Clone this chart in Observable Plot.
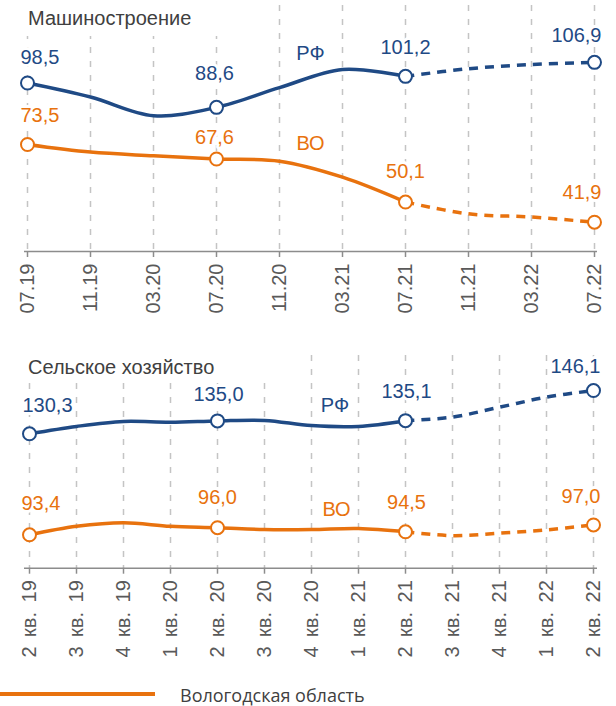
<!DOCTYPE html>
<html><head><meta charset="utf-8">
<script src="https://cdn.jsdelivr.net/npm/d3@7"></script>
<script src="https://cdn.jsdelivr.net/npm/@observablehq/plot@0.6"></script>
<style>
body{margin:0;background:#fff;}
#wrap{position:relative;width:616px;height:706px;overflow:hidden;background:#fff;}
#p1,#p2{position:absolute;left:0;}
#p1{top:0;} #p2{top:330px;}
.title{position:absolute;left:0;background:#fff;color:#404040;font:20px "Liberation Sans",Arial,sans-serif;padding-left:28px;box-sizing:border-box;white-space:nowrap;}
#p2 g[aria-label="x-axis tick label"] text{word-spacing:4px;}
.legline{position:absolute;left:0;top:692px;width:155px;height:4px;background:#E8720E;}
.legtext{position:absolute;left:180px;top:684px;font:18px "Open Sans",sans-serif;line-height:22px;color:#404040;white-space:nowrap;}
</style></head><body>
<div id="wrap">
  <div id="p1"></div>
  <div id="p2"></div>
  <div class="title" style="top:0;width:222px;height:36px;line-height:36px">Машиностроение</div>
  <div class="title" style="top:355px;width:270px;height:24px;line-height:24px">Сельское хозяйство</div>
  <div class="legline"></div>
  <div class="legtext">Вологодская область</div>
</div>
<script>
// ---- data ----
const months = ["07.19","11.19","03.20","07.20","11.20","03.21","07.21","11.21","03.22","07.22"];
const machRF = [98.5, 92.8, 85.2, 88.6, 96.6, 104.0, 101.2, 104.3, 106.0, 106.9];
const machVO = [73.5, 70.4, 68.9, 67.6, 66.7, 60.2, 50.1, 45.3, 44.0, 41.9];
const quarters = ["2 кв. 19","3 кв. 19","4 кв. 19","1 кв. 20","2 кв. 20","3 кв. 20","4 кв. 20","1 кв. 21","2 кв. 21","3 кв. 21","4 кв. 21","1 кв. 22","2 кв. 22"];
const agroRF = [130.3, 133.0, 134.8, 134.5, 135.0, 135.2, 133.3, 133.0, 135.1, 136.4, 140.0, 143.7, 146.1];
const agroVO = [93.4, 96.5, 97.8, 96.5, 96.0, 95.3, 95.3, 95.7, 94.5, 93.1, 94.0, 95.2, 97.0];
const seriesNames = ["РФ", "ВО"];
const machSplit = 6;   // index where forecast (dashed) begins
const agroSplit = 8;
const machMarked = [0, 3, 6, 9];
const agroMarked = [0, 4, 8, 12];

const BLUE = "#1F4A85", ORANGE = "#E8720E";
const fmt = v => v.toFixed(1).replace(".", ",");

function lines(xs, vals, split, color) {
  const solid = d3.range(0, split + 1), dashed = d3.range(split, xs.length);
  const common = {x: i => xs[i], y: i => vals[i], stroke: color, strokeWidth: 3.5, curve: "catmull-rom", strokeLinecap: "round"};
  return [
    Plot.line(solid, common),
    Plot.line(dashed, {...common, strokeDasharray: "9,7", strokeLinecap: "butt"})
  ];
}
function dots(xs, vals, idx, color) {
  return Plot.dot(idx, {x: i => xs[i], y: i => vals[i], r: 6.5, fill: "white", stroke: color, strokeWidth: 2});
}
function lab(xs, vals, i, color, dx, dy, anchor, text) {
  return Plot.text([i], {x: d => xs[d], y: d => vals[d], text: d => text ?? fmt(vals[d]),
    fill: color, dx, dy, textAnchor: anchor || "middle", fontSize: 20,
    stroke: "white", strokeWidth: 6, paintOrder: "stroke"});
}
const baseStyle = {fontFamily: "'Liberation Sans', Arial, sans-serif", fontSize: "20px", background: "transparent", overflow: "visible"};

function panel({xs, rf, vo, split, marked, domain, height, marginTop, marginBottom, labels}) {
  return Plot.plot({
    width: 616, height, marginLeft: 24, marginRight: 19, marginTop, marginBottom,
    style: baseStyle,
    x: {type: "point", domain: xs, padding: 0},
    y: {domain, axis: null},
    marks: [
      Plot.gridX({stroke: "#c4c4c4", strokeOpacity: 1, strokeWidth: 1.5, strokeDasharray: "6,8"}),
      Plot.ruleY([domain[0]], {stroke: "#8c8c8c", strokeWidth: 1.5}),
      Plot.axisX({tickRotate: -90, tickSize: 6, tickPadding: 6, fontSize: 20, stroke: "#8c8c8c", strokeWidth: 1.5, fill: "#595959", label: null}),
      ...lines(xs, rf, split, BLUE),
      ...lines(xs, vo, split, ORANGE),
      dots(xs, rf, marked, BLUE),
      dots(xs, vo, marked, ORANGE),
      ...labels
    ]
  });
}

document.getElementById("p1").append(panel({
  xs: months, rf: machRF, vo: machVO, split: machSplit, marked: machMarked,
  domain: [30, 130], height: 330, marginTop: 5, marginBottom: 79,
  labels: [
    lab(months, machRF, 0, BLUE, -7, -25, "start"),
    lab(months, machRF, 3, BLUE, -2, -34),
    lab(months, machRF, 6, BLUE, 0, -29),
    lab(months, machRF, 9, BLUE, 7, -27, "end"),
    lab(months, machVO, 0, ORANGE, -7, -29, "start"),
    lab(months, machVO, 3, ORANGE, -2, -21),
    lab(months, machVO, 6, ORANGE, 0, -30),
    lab(months, machVO, 9, ORANGE, 7, -30, "end"),
    lab(months, machRF, 4, BLUE, 31, -34, "middle", seriesNames[0]),
    lab(months, machVO, 4, ORANGE, 31, -18, "middle", seriesNames[1])
  ]
}));

document.getElementById("p2").append(panel({
  xs: quarters, rf: agroRF, vo: agroVO, split: agroSplit, marked: agroMarked,
  domain: [81.2, 158.9], height: 350, marginTop: 25, marginBottom: 112.3,
  labels: [
    lab(quarters, agroRF, 0, BLUE, -7, -28, "start"),
    lab(quarters, agroRF, 4, BLUE, 1, -26),
    lab(quarters, agroRF, 8, BLUE, 1, -28.6),
    lab(quarters, agroRF, 12, BLUE, 7, -23.6, "end"),
    lab(quarters, agroVO, 0, ORANGE, -8, -31, "start"),
    lab(quarters, agroVO, 4, ORANGE, 0, -30),
    lab(quarters, agroVO, 8, ORANGE, 1, -29),
    lab(quarters, agroVO, 12, ORANGE, 7, -28, "end"),
    lab(quarters, agroRF, 6, BLUE, 23.5, -20, "middle", seriesNames[0]),
    lab(quarters, agroVO, 6, ORANGE, 25, -20, "middle", seriesNames[1])
  ]
}));
</script>
</body></html>
